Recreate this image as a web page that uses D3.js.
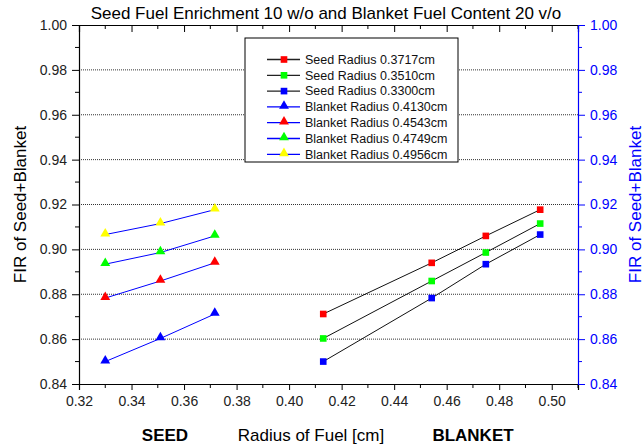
<!DOCTYPE html>
<html>
<head>
<meta charset="utf-8">
<script src="https://d3js.org/d3.v7.min.js"></script>
<style>
	body { margin: 0; background: #fff; }
	svg text { font-family: Arial, 'Liberation Sans', sans-serif; }
</style>
</head>
<body>
<div class="chart"></div>
<script>
'use strict';

// radii in cm
var seedRadii = [0.3300, 0.3510, 0.3717];
var blanketRadii = [0.4130, 0.4543, 0.4749, 0.4956];
// FIR values, one row per seed radius, one column per blanket radius
var firSeed0330 = [0.8500, 0.8783, 0.8934, 0.9066];
var firSeed0351 = [0.8603, 0.8859, 0.8986, 0.9115];
var firSeed0372 = [0.8712, 0.8940, 0.9060, 0.9177];
var xTicks = [0.32, 0.34, 0.36, 0.38, 0.40, 0.42, 0.44, 0.46, 0.48, 0.50];
var yTicks = [0.84, 0.86, 0.88, 0.90, 0.92, 0.94, 0.96, 0.98, 1.00];

var RED = '#ff0000';
var GREEN = '#00ff00';
var BLUE = '#0000ff';
var YELLOW = '#ffff00';
var FONT = 'Arial, "Liberation Sans", sans-serif';

var W = 644, H = 445;
var margin = {left: 79, right: 66, top: 25, bottom: 61};

var svg = d3.select('.chart').append('svg')
	.attr('width', W)
	.attr('height', H);

var x = d3.scaleLinear().domain([0.32, 0.51]).range([margin.left, W - margin.right]);
var y = d3.scaleLinear().domain([0.84, 1.00]).range([H - margin.bottom, margin.top]);

var firRows = [firSeed0330, firSeed0351, firSeed0372];

// series plotted against blanket radius (one per seed radius), squares
var seedSeries = [
	{name: 'Seed Radius 0.3717cm', color: RED, values: firSeed0372},
	{name: 'Seed Radius 0.3510cm', color: GREEN, values: firSeed0351},
	{name: 'Seed Radius 0.3300cm', color: BLUE, values: firSeed0330}
];
// series plotted against seed radius (one per blanket radius), triangles
var blanketColors = [BLUE, RED, GREEN, YELLOW];
var blanketSeries = blanketRadii.map(function(r, j) {
	return {
		name: 'Blanket Radius ' + r.toFixed(4) + 'cm',
		color: blanketColors[j],
		values: firRows.map(function(row) { return row[j]; })
	};
});

// dotted grid lines
svg.append('g').selectAll('line')
	.data(yTicks.slice(1, -1))
	.enter().append('line')
	.attr('x1', x(0.32)).attr('x2', x(0.51))
	.attr('y1', function(d) { return y(d); })
	.attr('y2', function(d) { return y(d); })
	.style('stroke', '#333')
	.style('stroke-width', 1)
	.style('stroke-dasharray', '1,1');

// axes
var minorX = d3.range(0.33, 0.511, 0.02);
var minorY = d3.range(0.85, 1.0, 0.02);

var bottomAxis = svg.append('g').attr('transform', 'translate(0,' + y(0.84) + ')')
	.call(d3.axisBottom(x).tickValues(xTicks).tickFormat(d3.format('.2f')).tickSize(6).tickPadding(6.5));
bottomAxis.append('g').selectAll('line').data(minorX).enter().append('line')
	.attr('x1', function(d) { return x(d); }).attr('x2', function(d) { return x(d); })
	.attr('y1', 0).attr('y2', 4).style('stroke', '#000');

var topAxis = svg.append('g').attr('transform', 'translate(0,' + y(1.0) + ')')
	.call(d3.axisBottom(x).tickValues(xTicks).tickFormat('').tickSize(7));
topAxis.append('g').selectAll('line').data(minorX).enter().append('line')
	.attr('x1', function(d) { return x(d); }).attr('x2', function(d) { return x(d); })
	.attr('y1', 0).attr('y2', 4).style('stroke', '#000');

var leftAxis = svg.append('g').attr('transform', 'translate(' + x(0.32) + ',0)')
	.call(d3.axisLeft(y).tickValues(yTicks).tickFormat(d3.format('.2f')).tickSize(7).tickPadding(5));
leftAxis.append('g').selectAll('line').data(minorY).enter().append('line')
	.attr('y1', function(d) { return y(d); }).attr('y2', function(d) { return y(d); })
	.attr('x1', 0).attr('x2', -4).style('stroke', '#000');

var rightAxis = svg.append('g').attr('transform', 'translate(' + x(0.51) + ',0)')
	.call(d3.axisRight(y).tickValues(yTicks).tickFormat(d3.format('.2f')).tickSize(7).tickPadding(5));
rightAxis.append('g').selectAll('line').data(minorY).enter().append('line')
	.attr('y1', function(d) { return y(d); }).attr('y2', function(d) { return y(d); })
	.attr('x1', 0).attr('x2', 4).style('stroke', BLUE);

[bottomAxis, topAxis, leftAxis, rightAxis].forEach(function(g) {
	g.attr('font-family', FONT).attr('font-size', 14);
	g.selectAll('.domain').style('stroke', '#000').style('stroke-width', 1.2);
	g.selectAll('.tick line').style('stroke', '#000');
	g.selectAll('.tick text').style('fill', '#222');
});
rightAxis.selectAll('.domain').style('stroke', BLUE);
rightAxis.selectAll('.tick line').style('stroke', BLUE);
rightAxis.selectAll('.tick text').style('fill', BLUE);

// series
var line = d3.line();
var square = d3.symbol().type(d3.symbolSquare).size(44);
var triangle = d3.symbol().type(d3.symbolTriangle).size(42);

seedSeries.forEach(function(s) {
	var pts = s.values.map(function(v, j) { return [x(blanketRadii[j]), y(v)]; });
	svg.append('path').attr('d', line(pts))
		.style('fill', 'none').style('stroke', '#111').style('stroke-width', 1);
	svg.append('g').selectAll('path').data(pts).enter().append('path')
		.attr('transform', function(p) { return 'translate(' + p[0] + ',' + p[1] + ')'; })
		.attr('d', square)
		.style('fill', s.color);
});

blanketSeries.forEach(function(s) {
	var pts = s.values.map(function(v, i) { return [x(seedRadii[i]), y(v)]; });
	svg.append('path').attr('d', line(pts))
		.style('fill', 'none').style('stroke', BLUE).style('stroke-width', 1);
	svg.append('g').selectAll('path').data(pts).enter().append('path')
		.attr('transform', function(p) { return 'translate(' + p[0] + ',' + (p[1] - 1) + ')'; })
		.attr('d', triangle)
		.style('fill', s.color);
});

// legend
var legend = svg.append('g').attr('transform', 'translate(245,38)');
legend.append('rect')
	.attr('width', 213).attr('height', 124)
	.style('fill', '#fff').style('stroke', '#000').style('stroke-width', 1);

var legendItems = seedSeries.map(function(s) { return {name: s.name, color: s.color, line: '#222', shape: square}; })
	.concat(blanketSeries.map(function(s) { return {name: s.name, color: s.color, line: BLUE, shape: triangle}; }));

var items = legend.selectAll('.item').data(legendItems).enter().append('g')
	.attr('transform', function(d, i) { return 'translate(0,' + (21.5 + i * 15.8) + ')'; });
items.append('line')
	.attr('x1', 22).attr('x2', 55)
	.style('stroke', function(d) { return d.line; }).style('stroke-width', 1.3);
items.append('path')
	.attr('transform', function(d) { return 'translate(39,' + (d.shape === triangle ? -1 : 0) + ')'; })
	.attr('d', function(d) { return d.shape(); })
	.style('fill', function(d) { return d.color; });
items.append('text')
	.attr('x', 60).attr('dy', '0.35em')
	.style('font-size', '12.5px').style('fill', '#111')
	.text(function(d) { return d.name; });

// titles
svg.append('text')
	.attr('x', 326).attr('y', 19)
	.attr('text-anchor', 'middle')
	.style('font-size', '17px')
	.text('Seed Fuel Enrichment 10 w/o and Blanket Fuel Content 20 v/o');

svg.append('text')
	.attr('x', 311).attr('y', 441)
	.attr('text-anchor', 'middle')
	.style('font-size', '17px')
	.text('Radius of Fuel [cm]');
svg.append('text')
	.attr('x', 165).attr('y', 441)
	.attr('text-anchor', 'middle')
	.style('font-size', '17px').style('font-weight', 'bold')
	.text('SEED');
svg.append('text')
	.attr('x', 473).attr('y', 441)
	.attr('text-anchor', 'middle')
	.style('font-size', '17px').style('font-weight', 'bold')
	.text('BLANKET');

svg.append('text')
	.attr('transform', 'translate(26,' + y(0.92) + ') rotate(-90)')
	.attr('text-anchor', 'middle')
	.style('font-size', '17px')
	.text('FIR of Seed+Blanket');
svg.append('text')
	.attr('transform', 'translate(641,' + y(0.92) + ') rotate(-90)')
	.attr('text-anchor', 'middle')
	.style('font-size', '17px').style('fill', BLUE)
	.text('FIR of Seed+Blanket');
</script>
</body>
</html>
